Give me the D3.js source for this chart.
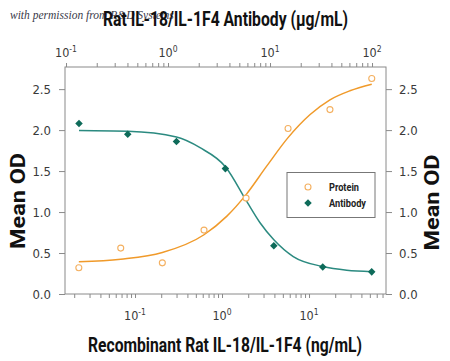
<!DOCTYPE html>
<html><head><meta charset="utf-8">
<script src="https://cdn.jsdelivr.net/npm/d3@7"></script>
<style>body{margin:0;background:#fff} svg{display:block}</style>
</head><body><svg id="c" width="450" height="361"></svg>
<script>
// Data points
const proteinConc = [0.0226, 0.0685, 0.206, 0.621, 1.89, 5.74, 17.4, 52.6]; // ng/mL (bottom axis)
const proteinOD   = [0.32, 0.56, 0.38, 0.78, 1.17, 2.02, 2.25, 2.63];
const antibodyConc = [0.134, 0.403, 1.21, 3.65, 10.9, 32.9, 99.3];       // µg/mL (top axis)
const antibodyOD   = [2.08, 1.95, 1.86, 1.53, 0.59, 0.33, 0.27];

// Fitted curves
const proteinFitConc = [0.0226, 0.0685, 0.206, 0.621, 1.13, 1.89, 3.26, 5.74, 10.3, 17.4, 29.5, 52.6];
const proteinFitOD   = [0.392, 0.425, 0.506, 0.723, 0.947, 1.213, 1.56, 1.908, 2.19, 2.37, 2.48, 2.56];
const antibodyFitConc = [0.134, 0.403, 1.21, 2.06, 3.65, 5.91, 7.98, 10.9, 16.9, 32.9, 56.5, 99.3];
const antibodyFitOD   = [1.994, 1.985, 1.915, 1.785, 1.553, 1.13, 0.87, 0.662, 0.457, 0.335, 0.29, 0.273];

const yTicks = [0, 0.5, 1.0, 1.5, 2.0, 2.5];
const bottomMajor = [0.1, 1, 10];
const bottomExp = ["-1", "0", "1"];
const topMajor = [0.1, 1, 10, 100];
const topExp = ["-1", "0", "1", "2"];

const svg = d3.select("#c");
const L = 65, R = 386, T = 67, B = 294;
const xB = d3.scaleLog().domain([0.01567, 76.7]).range([L, R]);
const xT = d3.scaleLog().domain([0.0977, 137.1]).range([L, R]);
const y = d3.scaleLinear().domain([0, 2.77]).range([B, T]);

const narrow = "'DejaVu Sans Condensed','Liberation Sans Narrow',sans-serif";
const titleFont = "Roboto,'Liberation Sans',sans-serif";
const axisCol = "#8a8a8a";
const textCol = "#3a3a3a";

// watermark
svg.append("text").attr("x", 10).attr("y", 19)
  .attr("font-family", "'Liberation Serif','DejaVu Serif',serif")
  .attr("font-style", "italic").attr("font-size", 11.5).attr("fill", "#3a3a4a")
  .text("with permission from R&D Systems");

// titles
svg.append("text").attr("x", 225.5).attr("y", 26).attr("text-anchor", "middle")
  .attr("font-family", titleFont).attr("font-weight", "bold").attr("font-size", 20)
  .attr("fill", "#111").attr("textLength", 245).attr("lengthAdjust", "spacingAndGlyphs")
  .text("Rat IL-18/IL-1F4 Antibody (µg/mL)");
svg.append("text").attr("x", 225).attr("y", 352).attr("text-anchor", "middle")
  .attr("font-family", titleFont).attr("font-weight", "bold").attr("font-size", 20.5)
  .attr("fill", "#111").attr("textLength", 274).attr("lengthAdjust", "spacingAndGlyphs")
  .text("Recombinant Rat IL-18/IL-1F4 (ng/mL)");
[[25, 201], [439, 202.5]].forEach(([x, cy]) => {
  svg.append("text").attr("transform", `translate(${x},${cy}) rotate(-90)`)
    .attr("text-anchor", "middle")
    .attr("font-family", titleFont).attr("font-weight", "bold").attr("font-size", 20)
    .attr("fill", "#111").attr("textLength", 96).attr("lengthAdjust", "spacingAndGlyphs")
    .text("Mean OD");
});

// axes
function styleAxis(g) {
  g.select(".domain").remove();
  g.selectAll(".tick line").attr("stroke", axisCol);
  g.selectAll(".tick text").attr("font-family", narrow).attr("font-size", 13).attr("fill", textCol);
}
svg.append("g").attr("transform", `translate(0,${B})`)
  .call(d3.axisBottom(xB).tickSize(4).tickFormat("")).call(styleAxis);
svg.append("g").attr("transform", `translate(0,${T})`)
  .call(d3.axisTop(xT).tickSize(4).tickFormat("")).call(styleAxis);
svg.append("g").attr("transform", `translate(${L},0)`)
  .call(d3.axisLeft(y).tickValues(yTicks).tickSize(6).tickPadding(8).tickFormat(d3.format(".1f"))).call(styleAxis);
svg.append("g").attr("transform", `translate(${R},0)`)
  .call(d3.axisRight(y).tickValues(yTicks).tickSize(6).tickPadding(7).tickFormat(d3.format(".1f"))).call(styleAxis);

// frame
svg.append("rect").attr("x", L).attr("y", T).attr("width", R - L).attr("height", B - T)
  .attr("fill", "none").attr("stroke", axisCol).attr("stroke-width", 1);

// power-of-ten labels
function powLabels(scale, vals, exps, yy) {
  vals.forEach((v, i) => {
    const t = svg.append("text").attr("x", scale(v)).attr("y", yy).attr("text-anchor", "middle")
      .attr("font-family", narrow).attr("font-size", 12.5).attr("fill", textCol);
    t.append("tspan").text("10");
    t.append("tspan").attr("dy", -5).attr("font-size", 8.5).text(exps[i]);
  });
}
powLabels(xB, bottomMajor, bottomExp, 320);
powLabels(xT, topMajor, topExp, 57);

// curves
const orange = "#f09a2a", orangePt = "#f4b060";
const teal = "#2b8a80", tealPt = "#0e6b5a";
const lineB = d3.line().x(d => xB(d[0])).y(d => y(d[1])).curve(d3.curveMonotoneX);
const lineT = d3.line().x(d => xT(d[0])).y(d => y(d[1])).curve(d3.curveMonotoneX);
svg.append("path").attr("d", lineB(d3.zip(proteinFitConc, proteinFitOD)))
  .attr("fill", "none").attr("stroke", orange).attr("stroke-width", 1.5);
svg.append("path").attr("d", lineT(d3.zip(antibodyFitConc, antibodyFitOD)))
  .attr("fill", "none").attr("stroke", teal).attr("stroke-width", 1.5);

// points
svg.append("g").selectAll("circle").data(d3.zip(proteinConc, proteinOD)).join("circle")
  .attr("cx", d => xB(d[0])).attr("cy", d => y(d[1])).attr("r", 3)
  .attr("fill", "#fff").attr("stroke", orangePt).attr("stroke-width", 1.1);
const diamond = d3.symbol().type(d3.symbolDiamond2).size(36);
svg.append("g").selectAll("path").data(d3.zip(antibodyConc, antibodyOD)).join("path")
  .attr("transform", d => `translate(${xT(d[0])},${y(d[1])})`)
  .attr("d", diamond).attr("fill", tealPt);

// legend
svg.append("rect").attr("x", 287).attr("y", 172.5).attr("width", 88).attr("height", 45)
  .attr("fill", "#fff").attr("stroke", "#777").attr("stroke-width", 1);
svg.append("circle").attr("cx", 308).attr("cy", 187).attr("r", 3)
  .attr("fill", "#fff").attr("stroke", orangePt).attr("stroke-width", 1.1);
svg.append("path").attr("transform", "translate(308,203)").attr("d", diamond).attr("fill", tealPt);
[["Protein", 191], ["Antibody", 207]].forEach(([s, yy]) => {
  svg.append("text").attr("x", 329).attr("y", yy)
    .attr("font-family", titleFont).attr("font-weight", "bold").attr("font-size", 11.5)
    .attr("fill", "#222").attr("textLength", s === "Protein" ? 30 : 37).attr("lengthAdjust", "spacingAndGlyphs")
    .text(s);
});
</script></body></html>
